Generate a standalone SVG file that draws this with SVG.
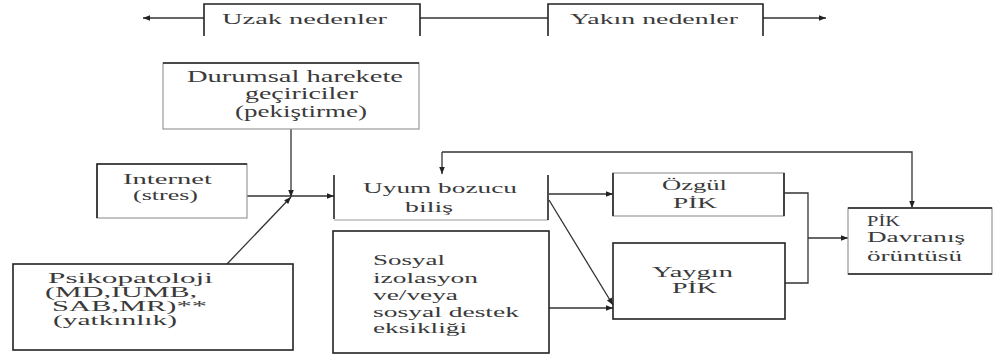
<svg xmlns="http://www.w3.org/2000/svg" width="993" height="358" viewBox="0 0 993 358">
<style>
text{font-family:"Liberation Serif","Times New Roman",serif;fill:#3a3a3a;}
.t16{font-size:16px;}
.t15{font-size:15px;}
.t14{font-size:14px;}
.dk{fill:none;stroke:#222;stroke-width:1.6;}
.gr{fill:none;stroke:#999;stroke-width:1.2;}
.cn{fill:none;stroke:#333;stroke-width:1.3;}
</style>
<defs>
<marker id="ah" viewBox="0 0 10 10" refX="10" refY="5" markerWidth="9" markerHeight="7" markerUnits="userSpaceOnUse" orient="auto">
<path d="M0,1 L10,5 L0,9 z" fill="#222"/>
</marker>
</defs>
<rect width="993" height="358" fill="#fff"/>

<g id="connectors">
<line class="cn" x1="204" y1="18" x2="143" y2="18" marker-end="url(#ah)"/>
<line class="cn" x1="420" y1="18" x2="548" y2="18"/>
<line class="cn" x1="763" y1="18" x2="826" y2="18" marker-end="url(#ah)"/>
<line class="cn" x1="291" y1="129" x2="291" y2="197" marker-end="url(#ah)"/>
<line class="cn" x1="247" y1="196" x2="334" y2="196" marker-end="url(#ah)"/>
<line class="cn" x1="227" y1="264" x2="291" y2="197" marker-end="url(#ah)"/>
<path class="cn" d="M442,152 L912,152 L912,208" marker-end="url(#ah)"/>
<line class="cn" x1="442" y1="152" x2="442" y2="174" marker-end="url(#ah)"/>
<line class="cn" x1="549" y1="194" x2="613" y2="194" marker-end="url(#ah)"/>
<line class="cn" x1="549" y1="200" x2="613" y2="305" marker-end="url(#ah)"/>
<line class="cn" x1="549" y1="308" x2="613" y2="308" marker-end="url(#ah)"/>
<path class="cn" d="M784,193 H808 V283 H785"/>
<line class="cn" x1="808" y1="238" x2="848" y2="238" marker-end="url(#ah)"/>
</g>

<g id="uzak">
<path class="dk" d="M204,36 V4 H420 V36"/>
<text class="t15" x="222" y="24" textLength="165" lengthAdjust="spacingAndGlyphs">Uzak nedenler</text>
</g>
<g id="yakin">
<path class="dk" d="M548,36 V4 H763 V36"/>
<text class="t15" x="570" y="24" textLength="168" lengthAdjust="spacingAndGlyphs">Yakın nedenler</text>
</g>

<g id="durumsal">
<rect class="gr" x="163" y="63" width="256" height="66"/>
<line class="dk" x1="163" y1="63" x2="419" y2="63"/>
<text class="t16" x="187" y="82" textLength="216" lengthAdjust="spacingAndGlyphs">Durumsal harekete</text>
<text class="t16" x="245" y="99" textLength="113" lengthAdjust="spacingAndGlyphs">geçiriciler</text>
<text class="t16" x="235" y="117" textLength="132" lengthAdjust="spacingAndGlyphs">(pekiştirme)</text>
</g>

<g id="internet">
<rect class="gr" x="97" y="164" width="150" height="54"/>
<path class="dk" d="M97,218 V164 H247"/>
<text class="t15" x="123" y="184" textLength="89" lengthAdjust="spacingAndGlyphs">Internet</text>
<text class="t14" x="133" y="200" textLength="65" lengthAdjust="spacingAndGlyphs">(stres)</text>
</g>

<g id="uyum">
<line class="gr" x1="334" y1="220" x2="548" y2="220"/>
<line class="dk" x1="334" y1="175" x2="334" y2="219"/>
<line class="dk" x1="548" y1="175" x2="548" y2="220"/>
<text class="t15" x="363" y="193" textLength="154" lengthAdjust="spacingAndGlyphs">Uyum bozucu</text>
<text class="t15" x="405" y="212" textLength="48" lengthAdjust="spacingAndGlyphs">biliş</text>
</g>

<g id="sosyal">
<rect class="dk" x="333" y="231" width="216" height="122"/>
<text class="t15" x="373" y="265" textLength="72" lengthAdjust="spacingAndGlyphs">Sosyal</text>
<text class="t15" x="373" y="283" textLength="105" lengthAdjust="spacingAndGlyphs">izolasyon</text>
<text class="t15" x="373" y="300" textLength="85" lengthAdjust="spacingAndGlyphs">ve/veya</text>
<text class="t15" x="373" y="317" textLength="146" lengthAdjust="spacingAndGlyphs">sosyal destek</text>
<text class="t15" x="373" y="333" textLength="94" lengthAdjust="spacingAndGlyphs">eksikliği</text>
</g>

<g id="ozgul">
<rect class="gr" x="613" y="173" width="171" height="43"/>
<line class="dk" x1="613" y1="173" x2="613" y2="216"/>
<line class="dk" x1="784" y1="173" x2="784" y2="216"/>
<text class="t15" x="662" y="190" textLength="65" lengthAdjust="spacingAndGlyphs">Özgül</text>
<text class="t15" x="673" y="208" textLength="44" lengthAdjust="spacingAndGlyphs">PİK</text>
</g>

<g id="yaygin">
<rect class="dk" x="613" y="243" width="172" height="76"/>
<text class="t15" x="652" y="277" textLength="81" lengthAdjust="spacingAndGlyphs">Yaygın</text>
<text class="t15" x="672" y="293" textLength="45" lengthAdjust="spacingAndGlyphs">PİK</text>
</g>

<g id="pik">
<rect class="gr" x="848" y="208" width="144" height="66"/>
<path class="dk" d="M848,208 H992 M848,274 H992"/>
<text class="t15" x="867" y="226" textLength="33" lengthAdjust="spacingAndGlyphs">PİK</text>
<text class="t15" x="867" y="242" textLength="98" lengthAdjust="spacingAndGlyphs">Davranış</text>
<text class="t15" x="867" y="261" textLength="95" lengthAdjust="spacingAndGlyphs">örüntüsü</text>
</g>

<g id="psikopatoloji">
<rect class="dk" x="13" y="264" width="280" height="86"/>
<text class="t14" x="48" y="283" textLength="165" lengthAdjust="spacingAndGlyphs">Psikopatoloji</text>
<text class="t14" x="45" y="297" textLength="152" lengthAdjust="spacingAndGlyphs">(MD,IUMB,</text>
<text class="t14" x="52" y="311" textLength="155" lengthAdjust="spacingAndGlyphs">SAB,MR)**</text>
<text class="t14" x="53" y="325" textLength="124" lengthAdjust="spacingAndGlyphs">(yatkınlık)</text>
</g>
</svg>
